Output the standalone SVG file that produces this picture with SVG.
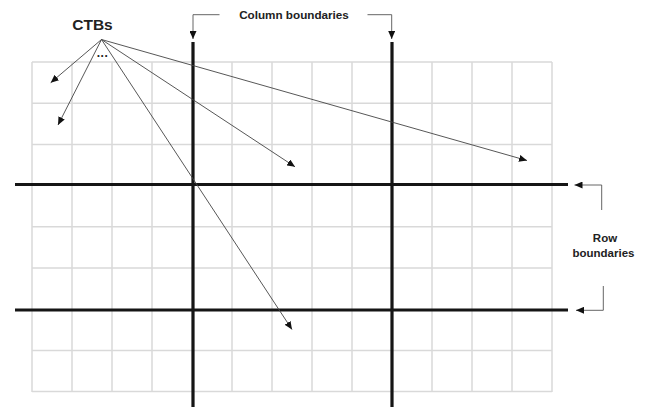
<svg xmlns="http://www.w3.org/2000/svg" width="645" height="407" viewBox="0 0 645 407">
<defs>
<marker id="ah" markerUnits="userSpaceOnUse" markerWidth="9" markerHeight="7" refX="8" refY="3.5" orient="auto">
<path d="M0,0 L8,3.5 L0,7 z" fill="#111"/>
</marker>
<style>
.grid{stroke:#d9d9d9;stroke-width:1.5;fill:none}
.bold{stroke:#151515;stroke-width:3.2;fill:none}
.ptr{stroke:#444;stroke-width:0.9;fill:none;marker-end:url(#ah)}
.call{stroke:#555;stroke-width:0.9;fill:none;marker-end:url(#ah)}
.lbl{font-family:"Liberation Sans",Arial,sans-serif;font-weight:bold;fill:#222;text-anchor:middle}
</style>
</defs>
<rect width="645" height="407" fill="#fff"/>
<g id="grid">
<path class="grid" d="M32,62V392M72,62V392M112,62V392M152,62V392M232,62V392M272,62V392M312,62V392M352,62V392M432,62V392M472,62V392M512,62V392M552,62V392"/>
<path class="grid" d="M32,62H552M32,103.2H552M32,144.4H552M32,226.8H552M32,268H552M32,350.4H552M32,391.6H552"/>
</g>
<g id="boundaries">
<path class="bold" d="M193,42V407M392,42V407"/>
<path class="bold" d="M15,184.5H568M15,310H568"/>
</g>
<g id="ctbs-label">
<text class="lbl" x="92.5" y="30" font-size="15.5">CTBs</text>
<text class="lbl" x="102.5" y="57" font-size="12" font-weight="normal" letter-spacing="0.5">...</text>
</g>
<g id="column-label">
<text class="lbl" x="294" y="19" font-size="11.7">Column boundaries</text>
</g>
<g id="row-label">
<text class="lbl" x="605" y="242" font-size="11.5">Row</text>
<text class="lbl" x="603.5" y="257" font-size="11.5">boundaries</text>
</g>
<g id="connectors">
<path class="ptr" d="M101.5,39.5L50.7,82.7"/>
<path class="ptr" d="M101.5,39.5L58,125"/>
<path class="ptr" d="M101.5,39.5L292,329.5"/>
<path class="ptr" d="M101.5,39.5L295,166.8"/>
<path class="ptr" d="M101.5,39.5L527,160.5"/>
<path class="call" d="M219.5,14.7H193V39"/>
<path class="call" d="M367.5,14.7H391.7V39"/>
<path class="call" d="M601.7,210V185H574.5"/>
<path class="call" d="M603.3,286V310.3H576"/>
</g>
</svg>
